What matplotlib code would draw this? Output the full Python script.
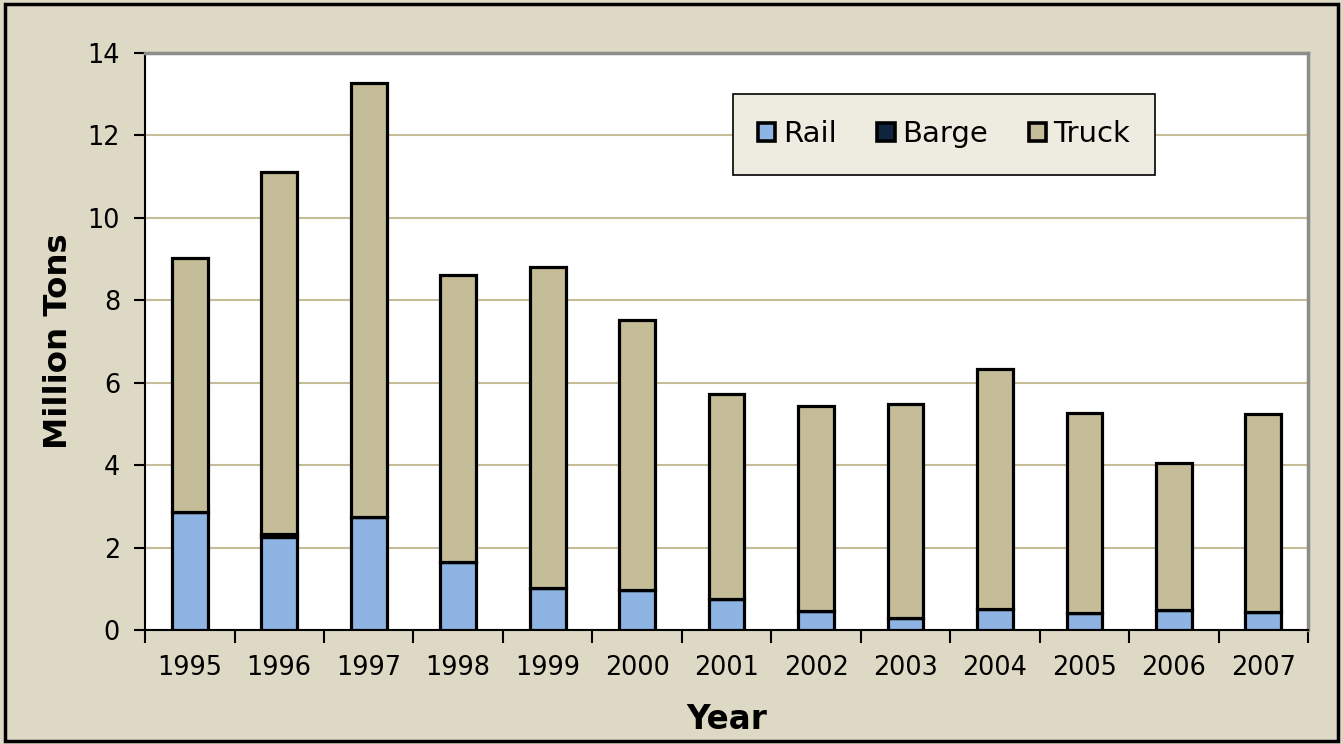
import numpy as np
from matplotlib import pyplot as plt
from matplotlib.patches import Rectangle

years = ['1995', '1996', '1997', '1998', '1999', '2000', '2001',
         '2002', '2003', '2004', '2005', '2006', '2007']
rail = [2.87, 2.26, 2.73, 1.64, 1.03, 0.97, 0.75, 0.46, 0.30, 0.51, 0.42, 0.49, 0.44]
barge = [0.0, 0.08, 0.0, 0.0, 0.0, 0.0, 0.0, 0.0, 0.0, 0.0, 0.0, 0.0, 0.0]
total = [9.03, 11.12, 13.28, 8.62, 8.81, 7.52, 5.73, 5.44, 5.49, 6.33, 5.27, 4.05, 5.24]
truck = [t - r - b for t, r, b in zip(total, rail, barge)]

bg = '#DDD9C4'
fig = plt.figure(figsize=(13.43, 7.44), dpi=100, facecolor=bg)
fig.patches.append(Rectangle((0.004, 0.004), 0.992, 0.99, transform=fig.transFigure,
                             fill=False, edgecolor='black', linewidth=2.5))
ax = fig.add_axes([0.108, 0.1532, 0.866, 0.7756])
ax.set_facecolor('white')

x = np.arange(len(years))
w = 0.40
edge = dict(edgecolor='black', linewidth=2.3, zorder=3)
ax.bar(x, rail, w, color='#8EB4E3', label='Rail', **edge)
ax.bar(x, barge, w, bottom=rail, color='#0F243E', label='Barge', **edge)
ax.bar(x, truck, w, bottom=np.add(rail, barge), color='#C4BD97', label='Truck', **edge)

ax.set_ylim(0, 14)
ax.set_xlim(-0.5, len(years) - 0.5)
ax.set_yticks(np.arange(0, 15, 2))
ax.yaxis.grid(True, color='#C4BD97', linewidth=1.5, zorder=0)
ax.set_axisbelow(True)

ax.set_xticks(x)
ax.set_xticklabels(years)
ax.set_xticks(np.arange(-0.5, len(years)), minor=True)
ax.tick_params(axis='x', which='major', length=0, pad=18, labelsize=18.4)
ax.tick_params(axis='x', which='minor', length=9, width=1.5, direction='out')
ax.tick_params(axis='y', length=8, width=1.5, direction='out', labelsize=18.4, pad=10)

for s in ['left', 'bottom']:
    ax.spines[s].set_color('black')
    ax.spines[s].set_linewidth(1.5)
for s in ['top', 'right']:
    ax.spines[s].set_color('#8C8C8C')
    ax.spines[s].set_linewidth(2.5)

ax.set_ylabel('Million Tons', fontsize=23.3, fontweight='bold', labelpad=10)
ax.set_xlabel('Year', fontsize=23.5, fontweight='bold', labelpad=16)

# legend box drawn separately so its padding can be set freely
ax.add_patch(Rectangle((0.5056, 0.7886), 0.3629, 0.1404, transform=ax.transAxes,
                       facecolor='#EEECE1', edgecolor='black', linewidth=1.2, zorder=5))
leg = ax.legend(loc='center', bbox_to_anchor=(0.687, 0.859), ncol=3, fontsize=21,
                frameon=False, handlelength=0.6, handleheight=0.6,
                handletextpad=0.25, columnspacing=1.4, borderpad=0, borderaxespad=0)
leg.set_zorder(6)
for h in leg.legend_handles:
    h.set_linewidth(2.6)

fig.savefig('out.png', dpi=100, facecolor=bg)
